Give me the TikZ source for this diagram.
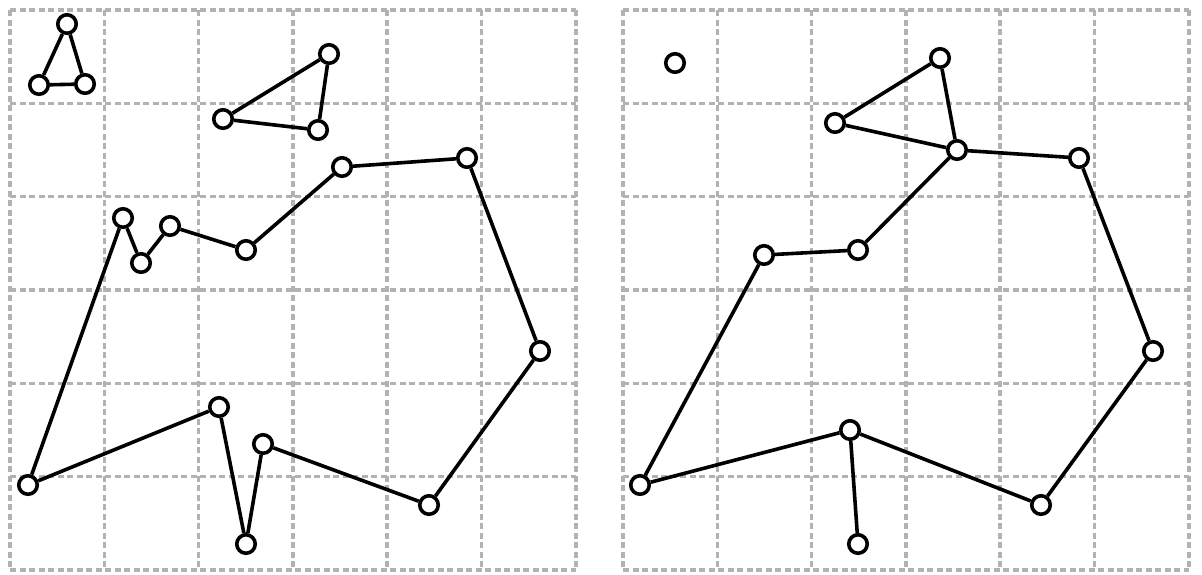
\documentclass[tikz,border=0pt]{standalone}
\begin{document}
\begin{tikzpicture}[x=1pt,y=-1pt,
  gridline/.style={draw={rgb,255:red,178;green,178;blue,178},line width=3.6pt,dash pattern=on 6pt off 3.5pt},
  vtx/.style={circle,draw=black,fill=white,line width=3.6pt,inner sep=0pt,minimum size=18.5pt},
  edge/.style={draw=black,line width=3.6pt}]
\useasboundingbox (0,0) rectangle (1202,574);
% grids
\foreach \xo in {10,623}{
  \foreach \i in {0,...,6}{
    \draw[gridline] ({\xo+\i*94.3},10) -- ({\xo+\i*94.3},570);
    \draw[gridline] (\xo,{10+\i*93.33}) -- ({\xo+565.8},{10+\i*93.33});
  }
}
% left panel nodes
\node[vtx] (a1) at (67,24) {};
\node[vtx] (a2) at (39,85) {};
\node[vtx] (a3) at (85,84) {};
\node[vtx] (b1) at (329,54) {};
\node[vtx] (b2) at (223,119) {};
\node[vtx] (b3) at (318,130) {};
\node[vtx] (c1) at (28,485) {};
\node[vtx] (c2) at (123,218) {};
\node[vtx] (c3) at (141,263) {};
\node[vtx] (c4) at (170,226) {};
\node[vtx] (c5) at (246,250) {};
\node[vtx] (c6) at (342,167) {};
\node[vtx] (c7) at (467,158) {};
\node[vtx] (c8) at (540,351) {};
\node[vtx] (c9) at (429,505) {};
\node[vtx] (c10) at (263,444) {};
\node[vtx] (c11) at (246,544) {};
\node[vtx] (c12) at (219,407) {};
% right panel nodes
\node[vtx] (r0) at (675,63) {};
\node[vtx] (r1) at (940,58) {};
\node[vtx] (r2) at (835,123) {};
\node[vtx] (r3) at (957,150) {};
\node[vtx] (r4) at (1079,158) {};
\node[vtx] (r5) at (1153,351) {};
\node[vtx] (r6) at (1041,505) {};
\node[vtx] (r7) at (850,430) {};
\node[vtx] (r8) at (858,544) {};
\node[vtx] (r9) at (640,485) {};
\node[vtx] (r10) at (764,255) {};
\node[vtx] (r11) at (858,250) {};
% edges
\path[edge] (a1) -- (a2) (a2) -- (a3) (a3) -- (a1);
\path[edge] (b1) -- (b2) (b2) -- (b3) (b3) -- (b1);
\path[edge] (c1) -- (c2) (c2) -- (c3) (c3) -- (c4) (c4) -- (c5) (c5) -- (c6) (c6) -- (c7)
  (c7) -- (c8) (c8) -- (c9) (c9) -- (c10) (c10) -- (c11) (c11) -- (c12) (c12) -- (c1);
\path[edge] (r2) -- (r1) (r1) -- (r3) (r2) -- (r3) (r3) -- (r4) (r4) -- (r5) (r5) -- (r6)
  (r6) -- (r7) (r7) -- (r8) (r7) -- (r9) (r9) -- (r10) (r10) -- (r11) (r11) -- (r3);
\end{tikzpicture}
\end{document}
